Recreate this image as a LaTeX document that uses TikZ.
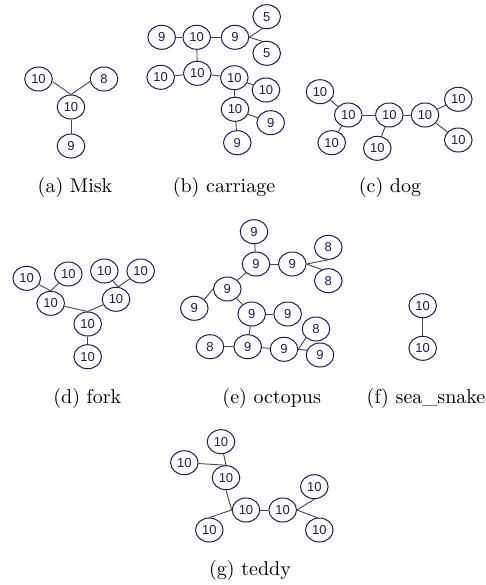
\documentclass[tikz,border=0pt]{standalone}
\usepackage{fontspec}
\usetikzlibrary{shapes.geometric}
\newfontfamily\vtxfont{Liberation Sans}
\definecolor{vtxblue}{RGB}{28,28,92}
\definecolor{lnkgray}{RGB}{70,70,70}
\tikzset{
  vtx/.style={ellipse, draw=vtxblue, line width=0.5pt, text=vtxblue,
    minimum width=13.8pt, minimum height=12pt, inner sep=0pt,
    font=\vtxfont\fontsize{6.5}{7}\selectfont},
  lnk/.style={draw=lnkgray, line width=0.45pt},
  subcap/.style={font=\normalsize}
}
\begin{document}
\begin{tikzpicture}[x=0.5pt, y=-0.5pt]
      \useasboundingbox (0, 0) rectangle (486, 585);

      % (a)
      \node[vtx] (mA) at (38.5, 79) {10};
      \node[vtx] (mB) at (104, 79) {8};
      \node[vtx] (mC) at (71, 107) {10};
      \node[vtx] (mD) at (71, 146) {9};
      \draw[lnk] (mA.-10) -- (mC.north);
      \draw[lnk] (mB.190) -- (mC.north);
      \draw[lnk] (mC) -- (mD);
      \node[subcap] (capA) at (75, 187) {(a) Misk};

      % (b)
      \node[vtx] (c1) at (161.7, 37.3) {9};
      \node[vtx] (c2) at (196.7, 37.3) {10};
      \node[vtx] (c3) at (235, 37.3) {9};
      \node[vtx] (c4) at (266.7, 16.7) {5};
      \node[vtx] (c5) at (266.7, 53.3) {5};
      \node[vtx] (c6) at (160.7, 77.3) {10};
      \node[vtx] (c7) at (197.3, 73.3) {10};
      \node[vtx] (c8) at (234.3, 77.7) {10};
      \node[vtx] (c9) at (266, 90) {10};
      \node[vtx] (c10) at (235, 109.3) {10};
      \node[vtx] (c11) at (270.7, 122.7) {9};
      \node[vtx] (c12) at (237.3, 142.7) {9};
      \draw[lnk] (c1) -- (c2);
      \draw[lnk] (c2) -- (c3);
      \draw[lnk] (c3.east) -- (c4.-110);
      \draw[lnk] (c3.east) -- (c5.110);
      \draw[lnk] (c2) -- (c7);
      \draw[lnk] (c6) -- (c7);
      \draw[lnk] (c7) -- (c8);
      \draw[lnk] (c8) -- (c9);
      \draw[lnk] (c8) -- (c10);
      \draw[lnk] (c10) -- (c11);
      \draw[lnk] (c10) -- (c12);
      \node[subcap] (capB) at (224, 187) {(b) carriage};

      % (c)
      \node[vtx] (d1) at (320, 91.7) {10};
      \node[vtx] (d2) at (348.3, 115) {10};
      \node[vtx] (d3) at (389.3, 115) {10};
      \node[vtx] (d4) at (425, 115) {10};
      \node[vtx] (d5) at (331.7, 142.7) {10};
      \node[vtx] (d6) at (377.3, 148.3) {10};
      \node[vtx] (d7) at (458.3, 99.3) {10};
      \node[vtx] (d8) at (458.3, 140) {10};
      \draw[lnk] (d1) -- (d2);
      \draw[lnk] (d2) -- (d3);
      \draw[lnk] (d3) -- (d4);
      \draw[lnk] (d2) -- (d5);
      \draw[lnk] (d3) -- (d6);
      \draw[lnk] (d4) -- (d7);
      \draw[lnk] (d4) -- (d8);
      \node[subcap] (capC) at (390, 187) {(c) dog};

      % (d)
      \node[vtx] (f1) at (26.7, 278.3) {10};
      \node[vtx] (f2) at (68.3, 274) {10};
      \node[vtx] (f3) at (104.3, 271) {10};
      \node[vtx] (f4) at (140.7, 271) {10};
      \node[vtx] (f5) at (50.7, 303.3) {10};
      \node[vtx] (f6) at (116, 299.3) {10};
      \node[vtx] (f7) at (87.7, 324) {10};
      \node[vtx] (f8) at (87.7, 356.7) {10};
      \draw[lnk] (f1) -- (f5.north);
      \draw[lnk] (f2) -- (f5.north);
      \draw[lnk] (f3) -- (f6.80);
      \draw[lnk] (f4) -- (f6.80);
      \draw[lnk] (f5) -- (f7.north);
      \draw[lnk] (f6) -- (f7.north);
      \draw[lnk] (f7) -- (f8);
      \node[subcap] (capD) at (87.3, 398) {(d) fork};

      % (e)
      \node[vtx] (o1) at (254, 231.7) {9};
      \node[vtx] (o2) at (256, 264) {9};
      \node[vtx] (o3) at (292.3, 264) {9};
      \node[vtx] (o4) at (328.3, 247.3) {8};
      \node[vtx] (o5) at (328.3, 280.7) {8};
      \node[vtx] (o6) at (227.3, 289) {9};
      \node[vtx] (o7) at (194.3, 308.3) {9};
      \node[vtx] (o8) at (251.7, 314) {9};
      \node[vtx] (o9) at (287.7, 314) {9};
      \node[vtx] (o10) at (210, 346.7) {8};
      \node[vtx] (o11) at (247.7, 346.7) {9};
      \node[vtx] (o12) at (284, 349.3) {9};
      \node[vtx] (o13) at (316, 329) {8};
      \node[vtx] (o14) at (320, 355) {9};
      \draw[lnk] (o1) -- (o2);
      \draw[lnk] (o2) -- (o3);
      \draw[lnk] (o3.east) -- (o4.south);
      \draw[lnk] (o3.east) -- (o5.120);
      \draw[lnk] (o2) -- (o6);
      \draw[lnk] (o6.west) -- (o7.north east);
      \draw[lnk] (o6) -- (o8);
      \draw[lnk] (o8) -- (o9);
      \draw[lnk] (o8) -- (o11);
      \draw[lnk] (o10) -- (o11);
      \draw[lnk] (o11) -- (o12);
      \draw[lnk] (o12.east) -- (o13.south west);
      \draw[lnk] (o12.east) -- (o14.160);
      \node[subcap] (capE) at (271.7, 398) {(e) octopus};

      % (f)
      \node[vtx] (s1) at (422.7, 305.7) {10};
      \node[vtx] (s2) at (422.7, 348.3) {10};
      \draw[lnk] (s1) -- (s2);
      \node[subcap] (capF) at (426, 398) {(f) sea\_snake};

      % (g)
      \node[vtx] (t1) at (221, 441.7) {10};
      \node[vtx] (t2) at (184.3, 462.7) {10};
      \node[vtx] (t3) at (226, 477.7) {10};
      \node[vtx] (t4) at (246, 510) {10};
      \node[vtx] (t5) at (282.7, 510) {10};
      \node[vtx] (t6) at (209.3, 530) {10};
      \node[vtx] (t7) at (314.3, 486.7) {10};
      \node[vtx] (t8) at (319.3, 530) {10};
      \draw[lnk] (t1) -- (t3.north);
      \draw[lnk] (t2) -- (t3.north);
      \draw[lnk] (t3.south) -- (t4.west);
      \draw[lnk] (t4.west) -- (t6.north);
      \draw[lnk] (t4) -- (t5);
      \draw[lnk] (t5.east) -- (t7.south);
      \draw[lnk] (t5.east) -- (t8.100);
      \node[subcap] (capG) at (250, 570) {(g) teddy};
\end{tikzpicture}
\end{document}
